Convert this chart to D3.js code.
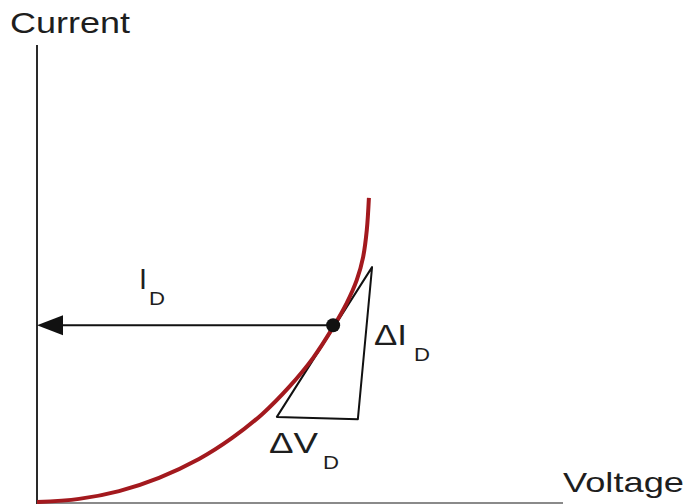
<!DOCTYPE html>
<html lang="en">
<head>
  <meta charset="UTF-8">
  <title>Diode I-V curve</title>
  <script src="https://d3js.org/d3.v7.min.js"></script>
  <style>
    body { margin: 0; background: #fff; }
    svg { display: block; }
    text { font-family: 'Liberation Sans', Arial, sans-serif; fill: #1e1e1e; }
  </style>
</head>
<body>
  <svg id="chart"></svg>

  <script>
    // diode curve (voltage in V, current in mA)
    const curveV = [0.00, 0.080, 0.156, 0.232, 0.308, 0.371, 0.428, 0.479, 0.525, 0.563, 0.589, 0.608, 0.620, 0.627, 0.631];
    const curveI = [0.02, 0.09, 0.26, 0.55, 0.96, 1.42, 1.94, 2.53, 3.17, 3.84, 4.37, 4.87, 5.37, 5.96, 6.66];

    // operating point and the tangent triangle
    const pointV = 0.563, pointI = 3.88;
    const triV = [0.456, 0.637, 0.610];
    const triI = [1.88, 5.15, 1.83];

    const width = 687, height = 504;
    const svg = d3.select("#chart").attr("width", width).attr("height", height);

    const x = d3.scaleLinear().domain([0, 1]).range([37, 563]);
    const y = d3.scaleLinear().domain([0, 10]).range([503, 45]);

    // axes
    svg.append("line")
      .attr("x1", x(0)).attr("x2", x(0))
      .attr("y1", y(10)).attr("y2", height)
      .attr("stroke", "#2a2a2a").attr("stroke-width", 2);
    svg.append("line")
      .attr("x1", x(0)).attr("x2", x(1))
      .attr("y1", y(0)).attr("y2", y(0))
      .attr("stroke", "#8a8a8a").attr("stroke-width", 2);

    // I_D arrow back to the current axis
    svg.append("line")
      .attr("x1", x(pointV)).attr("x2", x(0) + 20)
      .attr("y1", y(pointI)).attr("y2", y(pointI))
      .attr("stroke", "#111").attr("stroke-width", 2);
    svg.append("path")
      .attr("d", `M${x(0)},${y(pointI)} L${x(0) + 26},${y(pointI) - 10} L${x(0) + 26},${y(pointI) + 10} Z`)
      .attr("fill", "#111");

    // triangle
    const tri = triV.map((v, i) => [x(v), y(triI[i])]);
    svg.append("path")
      .attr("d", d3.line()(tri) + "Z")
      .attr("fill", "none")
      .attr("stroke", "#111")
      .attr("stroke-width", 2)
      .attr("stroke-linejoin", "round");

    // curve
    const pts = curveV.map((v, i) => [v, curveI[i]]);
    svg.append("path")
      .datum(pts)
      .attr("fill", "none")
      .attr("stroke", "#a3191e")
      .attr("stroke-width", 4)
      .attr("d", d3.line().x(d => x(d[0])).y(d => y(d[1])).curve(d3.curveCatmullRom.alpha(0.5)));

    svg.append("circle")
      .attr("cx", x(pointV)).attr("cy", y(pointI))
      .attr("r", 7).attr("fill", "#111");

    // labels
    svg.append("text").attr("x", 10).attr("y", 33)
      .attr("font-size", 29).attr("textLength", 120).attr("lengthAdjust", "spacingAndGlyphs")
      .text("Current");
    svg.append("text").attr("x", 563).attr("y", 492)
      .attr("font-size", 28).attr("textLength", 121).attr("lengthAdjust", "spacingAndGlyphs")
      .text("Voltage");

    function label(px, py, main, mainLen, sub, subX) {
      svg.append("text").attr("x", px).attr("y", py)
        .attr("font-size", 29).attr("textLength", mainLen).attr("lengthAdjust", "spacingAndGlyphs")
        .text(main);
      svg.append("text").attr("x", subX).attr("y", py + 16)
        .attr("font-size", 19).attr("textLength", 16).attr("lengthAdjust", "spacingAndGlyphs")
        .text(sub);
    }
    label(139, 289, "I", 8, "D", 149);
    label(374, 345, "ΔI", 33, "D", 414);
    label(269, 453, "ΔV", 49, "D", 323);
  </script>
</body>
</html>
